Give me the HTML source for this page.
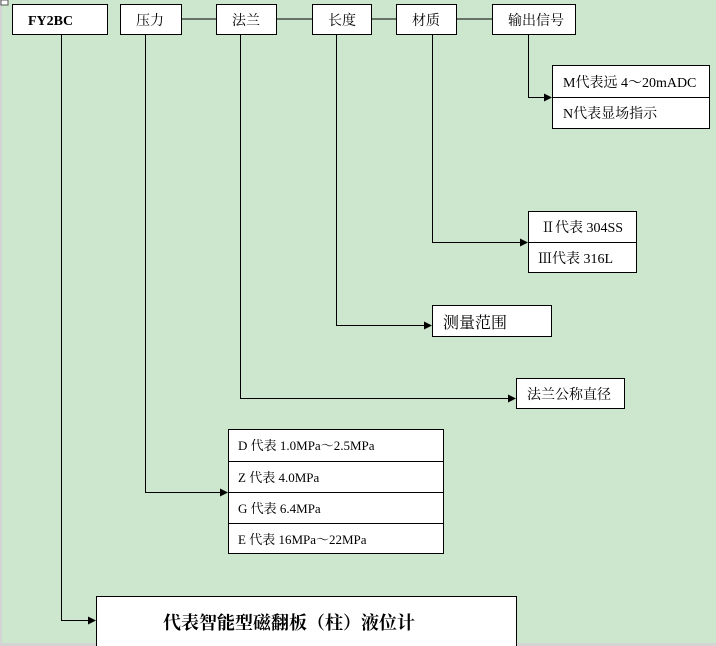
<!DOCTYPE html>
<html><head><meta charset="utf-8"><style>
html,body{margin:0;padding:0;background:#cde7cf;}
svg{display:block;}
text{font-family:"Liberation Serif","Noto Serif CJK SC","Noto Sans CJK SC",serif;fill:#000;}
</style></head><body>
<svg width="716" height="646" xmlns="http://www.w3.org/2000/svg">
<rect x="0" y="0" width="716" height="646" fill="#cde7cf"/>
<rect x="0" y="0" width="2" height="646" fill="#d4d4d4"/>
<rect x="0" y="643" width="716" height="3" fill="#d4d4d4"/>
<rect x="1" y="0" width="7" height="5" fill="#fff" stroke="#555" stroke-width="1"/>
<defs><marker id="a" markerWidth="8" markerHeight="8" refX="7" refY="4" orient="auto" markerUnits="userSpaceOnUse"><path d="M0,0 L8,4 L0,8 z" fill="#000"/></marker></defs>
<g stroke="#000" stroke-width="1" fill="none">
<line x1="182" y1="19" x2="216" y2="19"/>
<line x1="277" y1="19" x2="312" y2="19"/>
<line x1="372" y1="19" x2="396" y2="19"/>
<line x1="457" y1="19" x2="492" y2="19"/>
<polyline points="528.5,34 528.5,97.5 551,97.5" marker-end="url(#a)"/>
<polyline points="432.5,34 432.5,242.5 527,242.5" marker-end="url(#a)"/>
<polyline points="336.5,34 336.5,325.5 431,325.5" marker-end="url(#a)"/>
<polyline points="240.5,34 240.5,398.5 515,398.5" marker-end="url(#a)"/>
<polyline points="145.5,34 145.5,492.5 227,492.5" marker-end="url(#a)"/>
<polyline points="61.5,34 61.5,620.5 95,620.5" marker-end="url(#a)"/>
</g>
<g stroke="#000" stroke-width="1" fill="#fff">
<rect x="12.5" y="4.5" width="95" height="30"/>
<rect x="120.5" y="4.5" width="61" height="30"/>
<rect x="216.5" y="4.5" width="60" height="30"/>
<rect x="312.5" y="4.5" width="59" height="30"/>
<rect x="396.5" y="4.5" width="60" height="30"/>
<rect x="492.5" y="4.5" width="83" height="30"/>
<rect x="552.5" y="65.5" width="157" height="63"/>
<line x1="552" y1="97.5" x2="710" y2="97.5"/>
<rect x="528.5" y="211.5" width="108" height="61"/>
<line x1="528" y1="242.5" x2="637" y2="242.5"/>
<rect x="432.5" y="305.5" width="119" height="31"/>
<rect x="516.5" y="378.5" width="108" height="30"/>
<rect x="228.5" y="429.5" width="215" height="124"/>
<line x1="228" y1="461.5" x2="444" y2="461.5"/>
<line x1="228" y1="492.5" x2="444" y2="492.5"/>
<line x1="228" y1="523.5" x2="444" y2="523.5"/>
<rect x="96.5" y="596.5" width="420" height="60"/>
</g>
<g font-size="14">
<text x="28" y="25" font-weight="bold">FY2BC</text>
<text x="136" y="25">压力</text>
<text x="232" y="25">法兰</text>
<text x="328" y="25">长度</text>
<text x="412" y="25">材质</text>
<text x="508" y="25">输出信号</text>
<text x="563" y="87">M代表远 4～20mADC</text>
<text x="563" y="118">N代表显场指示</text>
<text x="541" y="232">Ⅱ代表 304SS</text>
<text x="538" y="263">Ⅲ代表 316L</text>
<text x="443" y="328" font-size="16">测量范围</text>
<text x="527" y="399">法兰公称直径</text>
<text x="238" y="450" font-size="13">D  代表 1.0MPa～2.5MPa</text>
<text x="238" y="482" font-size="13">Z  代表 4.0MPa</text>
<text x="238" y="513" font-size="13">G  代表 6.4MPa</text>
<text x="238" y="544" font-size="13">E  代表 16MPa～22MPa</text>
<text x="163" y="629" font-size="18" font-weight="bold">代表智能型磁翻板（柱）液位计</text>
</g>
</svg>
</body></html>
